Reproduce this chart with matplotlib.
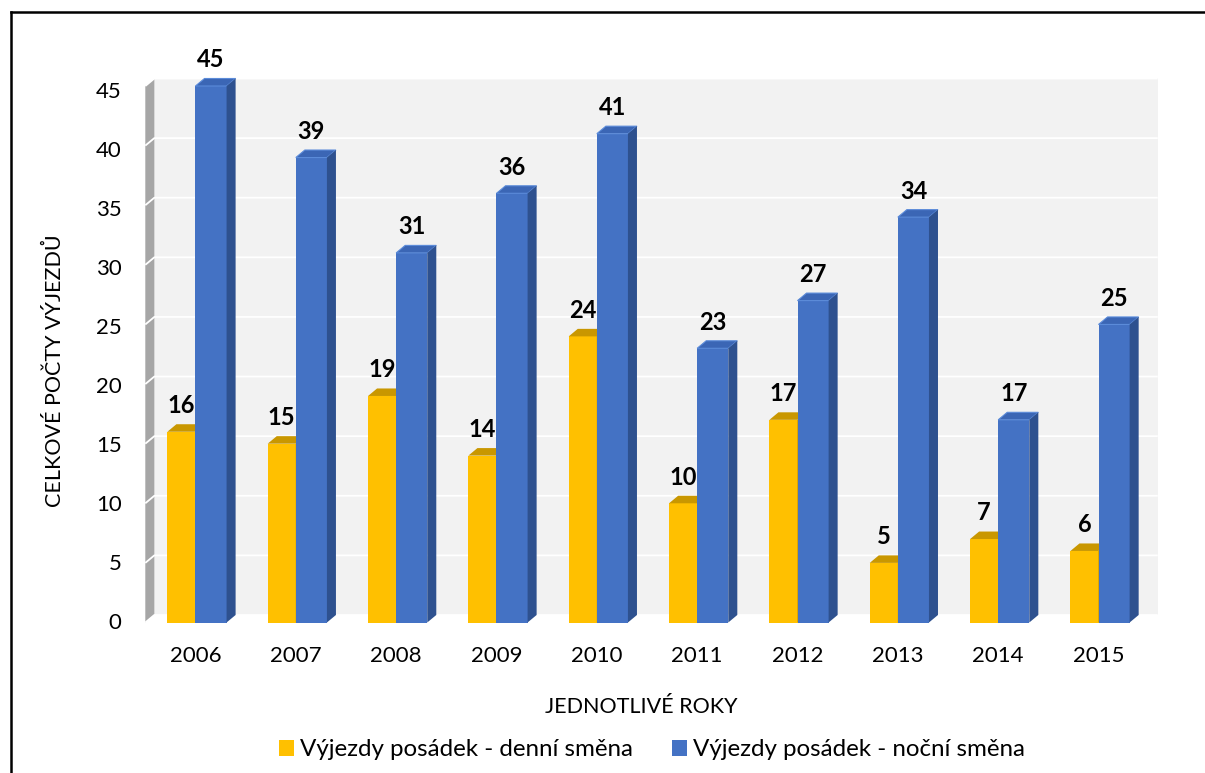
import matplotlib
matplotlib.use("Agg")
import matplotlib.pyplot as plt
from matplotlib.patches import Polygon, Rectangle
from matplotlib.lines import Line2D
from matplotlib.transforms import ScaledTranslation

years = ["2006", "2007", "2008", "2009", "2010", "2011", "2012", "2013", "2014", "2015"]
day_shift = [16, 15, 19, 14, 24, 10, 17, 5, 7, 6]
night_shift = [45, 39, 31, 36, 41, 23, 27, 34, 17, 25]
series_names = ["Výjezdy posádek - denní směna", "Výjezdy posádek - noční směna"]
y_ticks = [0, 5, 10, 15, 20, 25, 30, 35, 40, 45]

FONT = ["Lato", "DejaVu Sans"]
plt.rcParams["font.family"] = FONT

W, H = 1205, 773
fig = plt.figure(figsize=(W / 100, H / 100), dpi=100)
fig.patch.set_facecolor("white")

ax_left, ax_right = 145.3 / W, 1148.7 / W
ax_bottom, ax_top = 1 - 622.5 / H, 1 - 86 / H
ax = fig.add_axes([ax_left, ax_bottom, ax_right - ax_left, ax_top - ax_bottom])
ax.set_facecolor("none")

ymax = 45
ax.set_xlim(-0.5, len(years) - 0.5)
ax.set_ylim(0, ymax)

dx = 0.09   # depth in x data units
dy = 0.63   # depth in y data units

# back wall
x_wall0 = -0.5
x_wall1 = len(years) - 0.5
ax.add_patch(Rectangle((x_wall0 + dx, dy), x_wall1 - x_wall0, ymax, facecolor="#F2F2F2",
                       edgecolor="none", zorder=0, clip_on=False))
# left side wall
ax.add_patch(Polygon([(x_wall0, 0), (x_wall0 + dx, dy), (x_wall0 + dx, ymax + dy), (x_wall0, ymax)],
                     closed=True, facecolor="#A6A6A6", edgecolor="none", zorder=0, clip_on=False))
# gridlines
for t in y_ticks:
    ax.plot([x_wall0, x_wall0 + dx, x_wall1 + dx], [t, t + dy, t + dy], color="white",
            lw=1.3, zorder=0.5, clip_on=False, solid_capstyle="butt")

w_day = 0.28
w_night = 0.31

def draw_bar(x0, x1, v, front, top, side, top_edge=None):
    ax.add_patch(Rectangle((x0, 0), x1 - x0, v, facecolor=front, edgecolor="none",
                           zorder=2, clip_on=False))
    ax.add_patch(Polygon([(x0, v), (x0 + dx, v + dy), (x1 + dx, v + dy), (x1, v)], closed=True,
                         facecolor=top, edgecolor=top_edge if top_edge else "none", lw=0.8,
                         zorder=2, clip_on=False))
    ax.add_patch(Polygon([(x1, 0), (x1 + dx, dy), (x1 + dx, v + dy), (x1, v)], closed=True,
                         facecolor=side, edgecolor="none", zorder=2, clip_on=False))

for i, (d, n) in enumerate(zip(day_shift, night_shift)):
    c = i
    draw_bar(c - w_day, c, d, "#FFC000", "#C99700", "#B88A00")
    draw_bar(c, c + w_night, n, "#4472C4", "#3B66B5", "#2E518F", top_edge="#5B8BD9")
    ax.annotate(str(d), xy=(c - w_day / 2, d + dy), xytext=(0, 8),
                textcoords="offset points", ha="center", va="baseline",
                fontsize=17, fontweight="bold", color="black", zorder=5, annotation_clip=False)
    ax.annotate(str(n), xy=(c + w_night / 2, n + dy), xytext=(0, 8),
                textcoords="offset points", ha="center", va="baseline",
                fontsize=17, fontweight="bold", color="black", zorder=5, annotation_clip=False)

ax.set_xticks(range(len(years)))
ax.set_xticklabels(years)
ax.set_yticks(y_ticks)
ax.set_yticklabels([str(t) for t in y_ticks])
ax.tick_params(axis="x", length=0, pad=17, labelsize=16)
ax.tick_params(axis="y", length=0, pad=17, labelsize=16)
for t, lab in zip(y_ticks, ax.get_yticklabels()):
    off_px = 1.5 - 5.0 * t / ymax
    lab.set_transform(lab.get_transform() + ScaledTranslation(0, off_px / 100, fig.dpi_scale_trans))
for s in ax.spines.values():
    s.set_visible(False)

fig.text(55 / W, 1 - 371 / H, "CELKOVÉ POČTY VÝJEZDŮ", rotation=90, ha="center", va="center",
         fontsize=15.5, color="black")
fig.text(641.5 / W, 1 - 707 / H, "JEDNOTLIVÉ ROKY", ha="center", va="center",
         fontsize=15.5, color="black")

handles = [Rectangle((0, 0), 1, 1, facecolor="#FFC000", edgecolor="none"),
           Rectangle((0, 0), 1, 1, facecolor="#4472C4", edgecolor="none")]
fig.legend(handles, series_names, loc="center", bbox_to_anchor=(652 / W, 1 - 750 / H),
           ncol=2, frameon=False, fontsize=17.4, handlelength=0.62, handleheight=0.62,
           handletextpad=0.25, columnspacing=1.65, borderpad=0)

# chart frame (left and top edges)
fig.add_artist(Line2D([10.5 / W, 10.5 / W], [0, 1 - 12 / H], color="black", lw=1.8,
                      transform=fig.transFigure, solid_capstyle="projecting"))
fig.add_artist(Line2D([10.5 / W, 1], [1 - 12 / H, 1 - 12 / H], color="black", lw=1.8,
                      transform=fig.transFigure, solid_capstyle="projecting"))

fig.savefig("out.png", dpi=100, facecolor="white")
